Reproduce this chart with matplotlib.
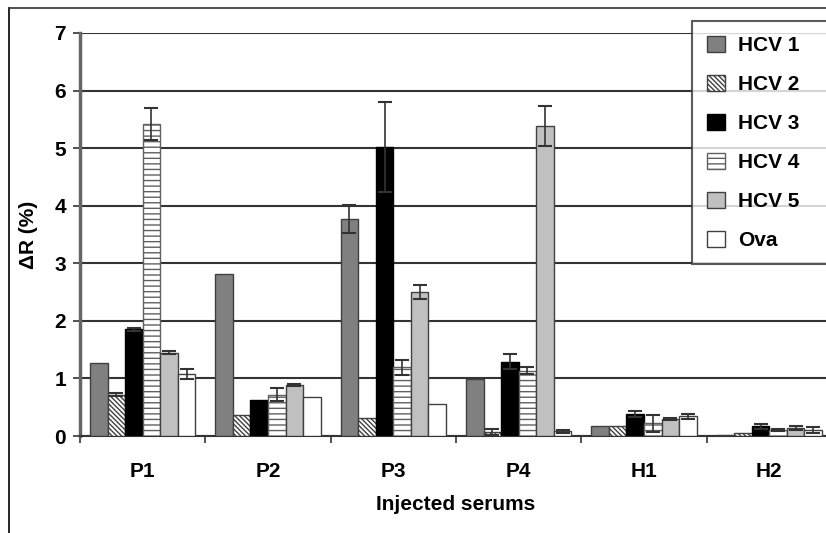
import matplotlib
matplotlib.use("Agg")
import matplotlib.pyplot as plt
import numpy as np
from matplotlib.lines import Line2D

plt.rcParams['font.family'] = ['Liberation Sans', 'DejaVu Sans']
plt.rcParams['font.weight'] = 'bold'
plt.rcParams['hatch.linewidth'] = 1.0

groups = ["P1", "P2", "P3", "P4", "H1", "H2"]
series = ["HCV 1", "HCV 2", "HCV 3", "HCV 4", "HCV 5", "Ova"]
hcv1 = [1.27, 2.82, 3.77, 0.99, 0.18, 0.01]
hcv2 = [0.72, 0.36, 0.31, 0.07, 0.18, 0.06]
hcv3 = [1.85, 0.62, 5.02, 1.29, 0.38, 0.17]
hcv4 = [5.42, 0.72, 1.19, 1.13, 0.22, 0.10]
hcv5 = [1.45, 0.88, 2.50, 5.38, 0.30, 0.14]
ova = [1.08, 0.67, 0.55, 0.08, 0.34, 0.10]
err1 = [0.0, 0.0, 0.25, 0.0, 0.0, 0.0]
err2 = [0.02, 0.0, 0.0, 0.05, 0.0, 0.0]
err3 = [0.02, 0.0, 0.78, 0.13, 0.05, 0.04]
err4 = [0.27, 0.12, 0.13, 0.06, 0.15, 0.02]
err5 = [0.02, 0.02, 0.12, 0.35, 0.02, 0.04]
erro = [0.09, 0.0, 0.0, 0.02, 0.05, 0.05]

values = [hcv1, hcv2, hcv3, hcv4, hcv5, ova]
errors = [err1, err2, err3, err4, err5, erro]
faces = ["#808080", "white", "black", "white", "#c0c0c0", "white"]
hatches = [None, "\\\\\\\\\\\\\\", None, "---", None, None]
edge_colors = ["#404040", "#404040", "black", "#606060", "#404040", "#404040"]

fig = plt.figure(figsize=(8.26, 5.33), dpi=100)
ax = fig.add_axes([80/826, 97/533, 752/826, 403/533])

x = np.arange(len(groups))
w = 0.14
for i, (vals, errs) in enumerate(zip(values, errors)):
    pos = x + (i - 2.5) * w
    ax.bar(pos, vals, width=w, color=faces[i], edgecolor=edge_colors[i],
           hatch=hatches[i], linewidth=1.0, label=series[i], zorder=3)
    e = np.array(errs)
    mask = e > 0
    ax.errorbar(pos[mask], np.array(vals)[mask], yerr=e[mask], fmt='none',
                ecolor="#333333", elinewidth=1.2, capsize=5, capthick=1.5, zorder=4)

ax.set_xlim(-0.5, 5.5)
ax.set_ylim(0, 7)
ax.set_yticks(range(0, 8))
ax.set_xticks(x)
ax.set_xticklabels(groups, fontsize=15, fontweight='bold')
ax.set_xticks(np.arange(-0.5, 6, 1), minor=True)
ax.tick_params(axis='x', which='major', length=0, pad=19)
ax.tick_params(axis='x', which='minor', length=5, width=1.2, color="#333333", direction='out')
ax.tick_params(axis='y', labelsize=15, length=5, width=1.2, color="#333333", pad=5)
for lab in ax.get_yticklabels():
    lab.set_fontweight('bold')

ax.yaxis.grid(True, color="#333333", linewidth=1.5, zorder=0)
ax.set_axisbelow(True)
for s in ["top", "right"]:
    ax.spines[s].set_visible(False)
ax.spines["left"].set_color("#666666")
ax.spines["left"].set_linewidth(2.5)
ax.spines["bottom"].set_color("#333333")
ax.spines["bottom"].set_linewidth(1.5)

ax.set_ylabel("ΔR (%)", fontsize=15, fontweight='bold', labelpad=12)
ax.set_xlabel("Injected serums", fontsize=15, fontweight='bold', labelpad=10)

leg = ax.legend(loc='upper left', bbox_to_anchor=(692/826, 268/533, 150/826, 244/533),
                bbox_transform=fig.transFigure, mode='expand',
                fontsize=15, frameon=True, fancybox=False, shadow=False,
                handlelength=0.9, handleheight=0.8, handletextpad=0.6,
                labelspacing=0.95, borderpad=0.7, borderaxespad=0)
leg.get_frame().set_edgecolor("#333333")
leg.get_frame().set_linewidth(1.5)
for t in leg.get_texts():
    t.set_fontweight('bold')

# figure frame lines (top and left)
fig.add_artist(Line2D([9/826, 9/826], [0, 525/533], transform=fig.transFigure, color='black', linewidth=1.2))
fig.add_artist(Line2D([9/826, 1], [525/533, 525/533], transform=fig.transFigure, color='#333333', linewidth=1.2))

fig.savefig("out.png", dpi=100)
